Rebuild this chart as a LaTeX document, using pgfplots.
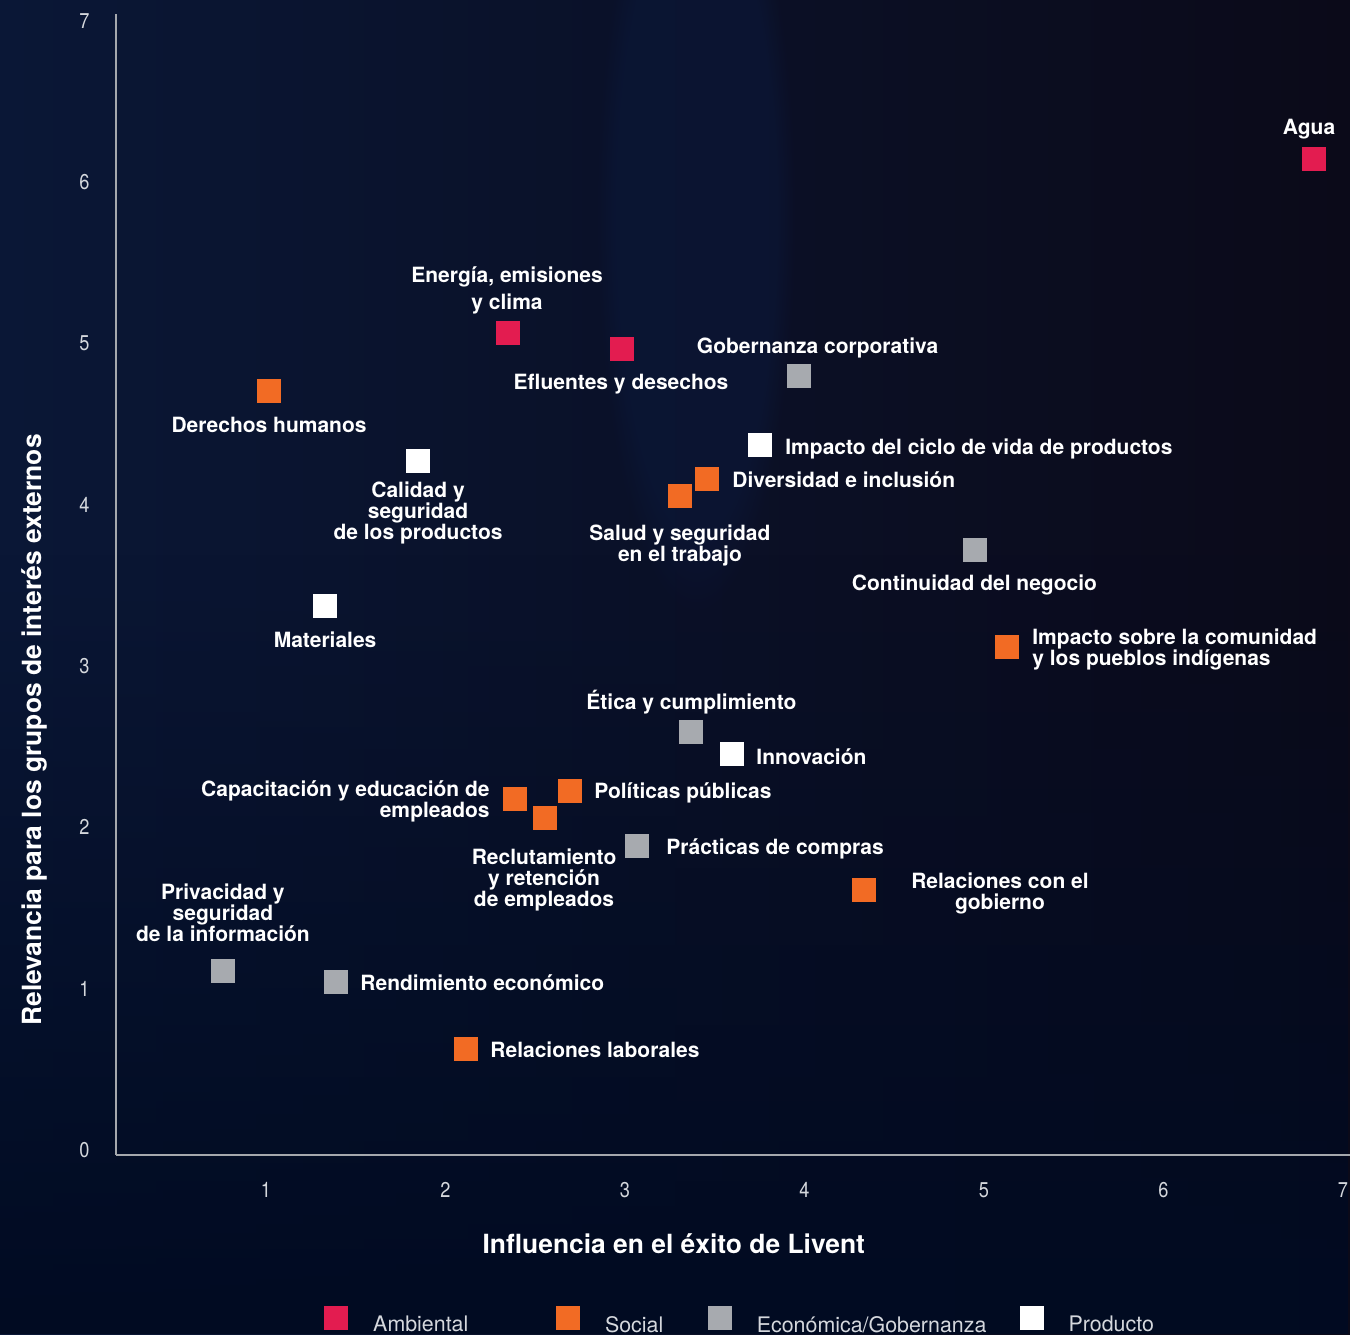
\documentclass[border=0pt]{standalone}
\usepackage{fontspec}
\setmainfont{TeX Gyre Heros}
\newfontfamily\tickfont{TeX Gyre Heros}[FakeStretch=0.85]
\usepackage{pgfplots}
\pgfplotsset{compat=1.18}
\usetikzlibrary{fadings}

\definecolor{cRed}{HTML}{E31C50}
\definecolor{cOrange}{HTML}{F26B24}
\definecolor{cGray}{HTML}{A7AAAF}
\definecolor{cWhite}{HTML}{FFFFFF}
\definecolor{axgray}{HTML}{A5A8AD}
\definecolor{tickgray}{HTML}{D5D8DD}
\definecolor{bgL}{HTML}{0A1736}
\definecolor{bgM}{HTML}{07112C}
\definecolor{bgR}{HTML}{0B0A19}
\definecolor{bgB}{HTML}{010B22}
\definecolor{streak}{HTML}{0C1A3F}

\pgfplotsset{
  catstyle/.style={only marks, mark=square*, mark size=5.75pt, color=#1,
    mark options={draw=none, fill=#1},
    legend image code/.code={\fill[#1] (0pt,-1.85pt) rectangle (11.5pt,9.65pt); \path (24pt,0pt);}},
}
\tikzset{lbl/.style={text=white, inner sep=0pt, font=\fontsize{10.5}{10.5}\selectfont\bfseries}}

\begin{document}
\begin{tikzpicture}
\path[use as bounding box] (-58pt,-89.5pt) rectangle (617pt,577.5pt);
\shade[left color=bgL, middle color=bgM, right color=bgR] (-58pt,-89.5pt) rectangle (617pt,577.5pt);
\fill[streak, opacity=0.45, path fading=circle with fuzzy edge 20 percent] (290pt,470pt) ellipse (50pt and 200pt);
\fill[bgB, path fading=north] (-58pt,-89.5pt) rectangle (617pt,300pt);
\begin{axis}[
  at={(0pt,0pt)}, anchor=south west,
  scale only axis, width=617pt, height=570.5pt,
  xmin=0.1643, xmax=7.039, ymin=-0.031, ymax=7.043,
  axis lines=left,
  axis line style={draw=axgray, line width=1.1pt, -},
  xtick={1,2,3,4,5,6,7}, ytick={0,1,2,3,4,5,6,7},
  major tick length=0pt,
  /pgf/number format/assume math mode=true,
  ticklabel style={font=\tickfont\fontsize{10.7}{12}\selectfont, text=tickgray},
  xticklabel style={anchor=north, inner sep=0pt, yshift=-13.5pt},
  yticklabel style={anchor=east, inner sep=0pt, xshift=-13pt},
  clip=false,
  xlabel={Influencia en el éxito de Livent},
  ylabel={Relevancia para los grupos de interés externos},
  every axis x label/.style={at={(axis description cs:0.452,-0.078)}, anchor=center, text=white, font=\fontsize{13.2}{14}\selectfont\bfseries},
  every axis y label/.style={at={(axis description cs:-0.066,0.3725)}, anchor=center, rotate=90, text=white, font=\fontsize{13.2}{14}\selectfont\bfseries},
  legend columns=4,
  legend style={at={(axis description cs:0.1686,-0.1450)}, anchor=west, draw=none, fill=none,
    inner sep=0pt, column sep=0pt, row sep=0pt, nodes={inner sep=0pt, text=tickgray},
    font=\fontsize{10.7}{13}\selectfont},
  legend cell align=left,
]
% Ambiental
\addplot[catstyle=cRed] coordinates {
  (6.836,6.147) (2.345,5.068) (2.981,4.969)
};
\addlegendentry{\makebox[91.5pt][l]{Ambiental}}
% Social
\addplot[catstyle=cOrange] coordinates {
  (1.017,4.706) (3.457,4.160) (3.306,4.055) (5.128,3.118)
  (2.384,2.179) (2.691,2.229) (2.552,2.061) (4.331,1.612) (2.114,0.626)
};
\addlegendentry{\makebox[51.5pt][l]{Social}}
% Economica/Gobernanza
\addplot[catstyle=cGray] coordinates {
  (3.969,4.799) (4.950,3.720) (3.368,2.591) (3.064,1.888) (0.760,1.110) (1.390,1.042)
};
\addlegendentry{\makebox[131.5pt][l]{Económica/Gobernanza}}
% Producto
\addplot[catstyle=cWhite] coordinates {
  (3.752,4.371) (1.847,4.272) (1.329,3.373) (3.596,2.455)
};
\addlegendentry{Producto}

\node[lbl, anchor=center] at (axis cs:6.811,6.330) {Agua};
\node[lbl, anchor=center, align=center] at (axis cs:2.343,5.328) {Energía, emisiones\\[3pt]y clima};
\node[lbl, anchor=center] at (axis cs:2.978,4.749) {Efluentes y desechos};
\node[lbl, anchor=center] at (axis cs:4.073,4.972) {Gobernanza corporativa};
\node[lbl, anchor=center] at (axis cs:1.017,4.495) {Derechos humanos};
\node[lbl, anchor=west] at (axis cs:3.891,4.346) {Impacto del ciclo de vida de productos};
\node[lbl, anchor=center, align=center] at (axis cs:1.847,3.949) {Calidad y\\seguridad\\de los productos};
\node[lbl, anchor=west] at (axis cs:3.596,4.154) {Diversidad e inclusión};
\node[lbl, anchor=center, align=center] at (axis cs:3.306,3.751) {Salud y seguridad\\en el trabajo};
\node[lbl, anchor=center] at (axis cs:4.947,3.503) {Continuidad del negocio};
\node[lbl, anchor=center] at (axis cs:1.329,3.162) {Materiales};
\node[lbl, anchor=west, align=left] at (axis cs:5.267,3.103) {Impacto sobre la comunidad\\y los pueblos indígenas};
\node[lbl, anchor=center] at (axis cs:3.370,2.778) {Ética y cumplimiento};
\node[lbl, anchor=west] at (axis cs:3.730,2.436) {Innovación};
\node[lbl, anchor=east, align=right] at (axis cs:2.248,2.160) {Capacitación y educación de\\empleados};
\node[lbl, anchor=west] at (axis cs:2.827,2.214) {Políticas públicas};
\node[lbl, anchor=center, align=center] at (axis cs:2.549,1.674) {Reclutamiento\\y retención\\de empleados};
\node[lbl, anchor=west] at (axis cs:3.228,1.866) {Prácticas de compras};
\node[lbl, anchor=center, align=center] at (axis cs:5.089,1.591) {Relaciones con el\\gobierno};
\node[lbl, anchor=center, align=center] at (axis cs:0.760,1.472) {Privacidad y\\seguridad\\de la información};
\node[lbl, anchor=west] at (axis cs:1.524,1.035) {Rendimiento económico};
\node[lbl, anchor=west] at (axis cs:2.248,0.620) {Relaciones laborales};
\end{axis}
\end{tikzpicture}
\end{document}
